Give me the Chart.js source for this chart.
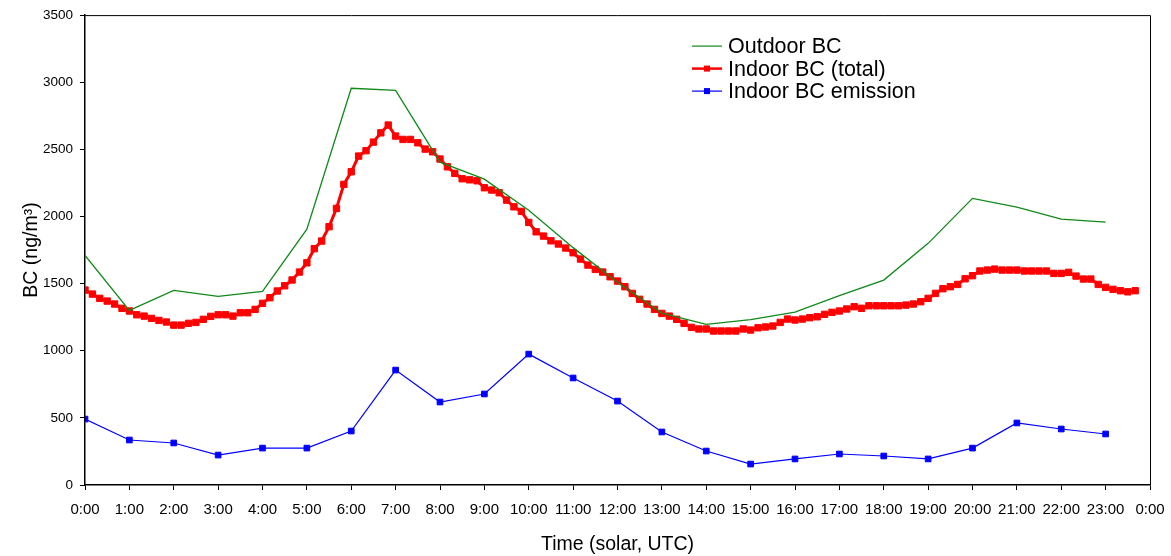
<!DOCTYPE html>
<html>
<head>
<meta charset="utf-8">
<script src="https://cdn.jsdelivr.net/npm/chart.js@4/dist/chart.umd.min.js"></script>
<style>
  html, body { margin: 0; padding: 0; background: #fff; }
  #wrap { width: 1171px; height: 556px; }
</style>
</head>
<body>
<div id="wrap"><canvas id="chart" width="1171" height="556"></canvas></div>
<script>
// hourly values, 0:00 .. 23:00
const outdoorBC = [1710, 1300, 1450, 1405, 1442, 1905, 2955, 2940, 2405, 2278, 2046, 1768,
                   1510, 1280, 1197, 1232, 1287, 1410, 1526, 1800, 2135, 2070, 1980, 1958]
const emissionBC = [491, 335, 313, 223, 275, 275, 402, 856, 618, 678, 975, 797,
                    625, 395, 253, 156, 194, 231, 216, 194, 275, 462, 417, 380]

// 10-minute values, 0:00 .. 23:40
const indoorBC = [
  1452, 1422, 1390, 1370, 1348, 1316,
  1296, 1268, 1258, 1241, 1226, 1214,
  1191, 1191, 1204, 1211, 1234, 1256,
  1268, 1268, 1258, 1283, 1283, 1308,
  1353, 1395, 1445, 1484, 1527, 1586,
  1655, 1760, 1817, 1924, 2060, 2239,
  2333, 2450, 2490, 2554, 2623, 2681,
  2599, 2574, 2574, 2549, 2502, 2482,
  2428, 2370, 2321, 2281, 2273, 2266,
  2214, 2197, 2177, 2122, 2072, 2038,
  1956, 1886, 1854, 1819, 1795, 1765,
  1730, 1683, 1638, 1606, 1586, 1551,
  1519, 1477, 1427, 1383, 1348, 1308,
  1278, 1258, 1234, 1204, 1174, 1162,
  1162, 1147, 1147, 1147, 1147, 1162,
  1154, 1171, 1177, 1184, 1211, 1236,
  1229, 1236, 1246, 1253, 1271, 1286,
  1296, 1311, 1328, 1316, 1335, 1335,
  1335, 1335, 1335, 1340, 1348, 1365,
  1390, 1427, 1462, 1477, 1494, 1536,
  1559, 1594, 1601, 1608, 1601, 1601,
  1601, 1594, 1594, 1594, 1594, 1576,
  1576, 1584, 1556, 1534, 1534, 1494,
  1472, 1457, 1447, 1439, 1447
]

const hourTicks = [0, 1, 2, 3, 4, 5, 6, 7, 8, 9, 10, 11, 12, 13, 14, 15, 16, 17, 18, 19, 20, 21, 22, 23, 24]
const yTicks = [0, 500, 1000, 1500, 2000, 2500, 3000, 3500]

const hourly = arr => arr.map((v, i) => ({x: i, y: v}))
const tenMin = arr => arr.map((v, i) => ({x: i / 6, y: v}))

const FONT = "'Liberation Sans', Arial, sans-serif"

// box around the plot area (top and right edges)
const frame = {
  id: 'frame',
  afterDatasetsDraw(chart) {
    const {ctx, chartArea: a} = chart
    ctx.save()
    ctx.strokeStyle = '#000'
    ctx.lineWidth = 1
    ctx.beginPath()
    ctx.moveTo(a.left, a.top + 0.5)
    ctx.lineTo(a.right + 0.5, a.top + 0.5)
    ctx.lineTo(a.right + 0.5, a.bottom)
    ctx.stroke()
    ctx.restore()
  }
}

// legend drawn inside the plot
const innerLegend = {
  id: 'innerLegend',
  afterDraw(chart) {
    const {ctx, chartArea: a} = chart
    const x0 = a.left + 607, y0 = a.top + 31, row = 22.5
    ctx.save()
    ctx.font = '21.5px ' + FONT
    ctx.textBaseline = 'middle'
    chart.data.datasets.forEach((ds, i) => {
      const y = y0 + i * row
      ctx.strokeStyle = ds.borderColor
      ctx.lineWidth = i === 1 ? 2.5 : 1.2
      ctx.beginPath()
      ctx.moveTo(x0, y)
      ctx.lineTo(x0 + 30, y)
      ctx.stroke()
      if (ds.pointRadius > 0) {
        ctx.fillStyle = ds.pointBackgroundColor
        ctx.fillRect(x0 + 12, y - 3, 6, 6)
      }
      ctx.fillStyle = '#000'
      ctx.fillText(ds.label, x0 + 36, y + 1)
    })
    ctx.restore()
  }
}

new Chart(document.getElementById('chart'), {
  type: 'line',
  data: {
    datasets: [
      {
        label: 'Outdoor BC',
        data: hourly(outdoorBC),
        borderColor: '#11891a',
        borderWidth: 1.3,
        pointRadius: 0,
        tension: 0
      },
      {
        label: 'Indoor BC (total)',
        data: tenMin(indoorBC),
        borderColor: '#ff0000',
        backgroundColor: '#ff0000',
        pointBackgroundColor: '#ff0000',
        pointBorderColor: '#ff0000',
        borderWidth: 3,
        pointStyle: 'rect',
        pointRadius: 4.5,
        pointBorderWidth: 1,
        tension: 0
      },
      {
        label: 'Indoor BC emission',
        data: hourly(emissionBC),
        borderColor: '#0000ff',
        backgroundColor: '#0000ff',
        pointBackgroundColor: '#0000ff',
        pointBorderColor: '#0000ff',
        borderWidth: 1.2,
        pointStyle: 'rect',
        pointRadius: 4,
        pointBorderWidth: 1,
        tension: 0
      }
    ]
  },
  options: {
    responsive: false,
    animation: false,
    layout: { padding: { top: 15, right: 21, left: 0, bottom: 0 } },
    plugins: {
      legend: { display: false },
      tooltip: { enabled: false }
    },
    scales: {
      x: {
        type: 'linear',
        min: 0,
        max: 24,
        afterBuildTicks: s => { s.ticks = hourTicks.map(v => ({value: v})) },
        afterFit: s => {
          s.height = 71
          s.paddingLeft = 0
          s.paddingRight = 0
        },
        ticks: {
          callback: v => (v % 24) + ':00',
          autoSkip: false,
          maxRotation: 0,
          color: '#000',
          padding: 11,
          font: { family: FONT, size: 15 }
        },
        grid: {
          drawOnChartArea: false,
          drawTicks: true,
          tickLength: 5,
          color: '#000'
        },
        border: { display: true, color: '#000', width: 1.5 },
        title: {
          display: true,
          text: 'Time (solar, UTC)',
          color: '#000',
          padding: { top: 6, bottom: 0 },
          font: { family: FONT, size: 19.5 }
        }
      },
      y: {
        min: 0,
        max: 3500,
        afterBuildTicks: s => { s.ticks = yTicks.map(v => ({value: v})) },
        afterFit: s => { s.width = 85 },
        ticks: {
          callback: v => String(v),
          color: '#000',
          padding: 7,
          font: { family: FONT, size: 13.5 }
        },
        grid: {
          drawOnChartArea: false,
          drawTicks: true,
          tickLength: 5,
          color: '#000'
        },
        border: { display: true, color: '#000', width: 1.5 },
        title: {
          display: true,
          text: 'BC (ng/m³)',
          color: '#000',
          padding: { top: 20, bottom: 0 },
          font: { family: FONT, size: 19.5 }
        }
      }
    }
  },
  plugins: [frame, innerLegend]
})
</script>
</body>
</html>
